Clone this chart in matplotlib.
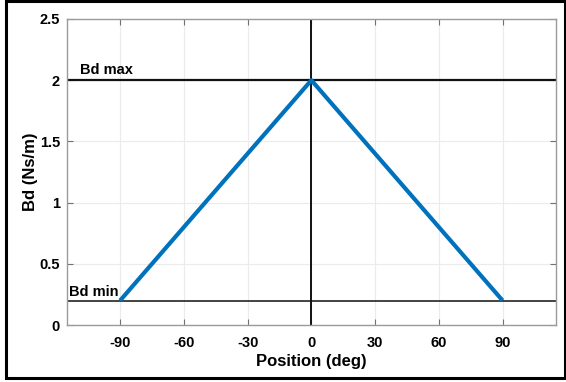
import matplotlib.pyplot as plt
from matplotlib.patches import Rectangle

# damping profile vs. position
position = [-90, 0, 90]
bd = [0.2, 2.0, 0.2]
bd_max = 2.0
bd_min = 0.2
xticks = [-90, -60, -30, 0, 30, 60, 90]
yticks = [0, 0.5, 1, 1.5, 2, 2.5]

plt.rcParams['font.family'] = ['Liberation Sans', 'DejaVu Sans']
plt.rcParams['font.weight'] = 'bold'
plt.rcParams['axes.unicode_minus'] = False

fig = plt.figure(figsize=(5.66, 3.82), dpi=100)
ax = fig.add_axes([0.1184, 0.1492, 0.8634, 0.8011])

ax.grid(True, color='#ebebeb', linewidth=0.8, zorder=0)
ax.axhline(bd_max, color='#111111', linewidth=1.6, zorder=2)
ax.axhline(bd_min, color='#111111', linewidth=1.1, zorder=2)
ax.axvline(0, color='#111111', linewidth=1.4, zorder=2)
ax.plot(position, bd, color='#0072BD', linewidth=3, solid_capstyle='butt', zorder=3)

ax.text(-109, bd_max + 0.05, 'Bd max', fontsize=10.5, fontweight='bold')
ax.text(-114, bd_min + 0.04, 'Bd min', fontsize=10.5, fontweight='bold')

ax.set_xlim(-115, 115)
ax.set_ylim(0, 2.5)
ax.set_xticks(xticks)
ax.set_yticks(yticks)
ax.set_yticklabels(['0', '0.5', '1', '1.5', '2', '2.5'])
ax.tick_params(direction='in', length=4, width=0.8, color='#707070',
               top=True, right=True, labelsize=10.5)
ax.tick_params(axis='x', pad=8)
ax.tick_params(axis='y', pad=5)
for lbl in ax.get_xticklabels() + ax.get_yticklabels():
    lbl.set_fontweight('bold')
for sp in ax.spines.values():
    sp.set_color('#9a9a9a')
    sp.set_linewidth(1)

ax.set_xlabel('Position (deg)', fontsize=12, fontweight='bold', labelpad=3)
ax.set_ylabel('Bd (Ns/m)', fontsize=12, fontweight='bold', labelpad=1)

# frame round the whole figure
fig.patches.append(Rectangle((0.011, 0.01), 0.987, 0.987, transform=fig.transFigure,
                             fill=False, edgecolor='black', linewidth=2.2))

fig.savefig('out.png', dpi=100)
